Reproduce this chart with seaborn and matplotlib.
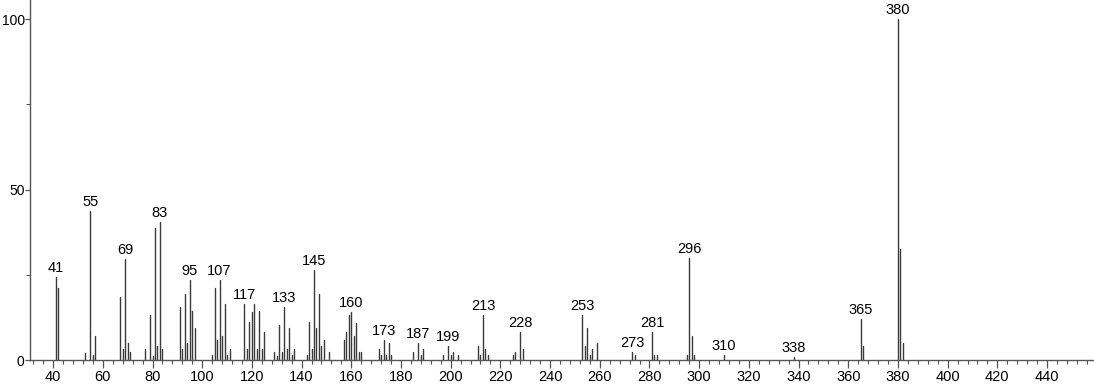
import numpy as np
import pandas as pd
import matplotlib
matplotlib.use("Agg")
import matplotlib.pyplot as plt
import seaborn as sns
from matplotlib.ticker import MultipleLocator

# m/z values and relative intensities
mz = [41, 42, 53, 55, 56, 57, 67, 68, 69, 70, 71, 77, 79, 80, 81, 82, 83, 84,
      91, 92, 93, 94, 95, 96, 97, 104, 105, 106, 107, 108, 109, 110, 111,
      117, 118, 119, 120, 121, 122, 123, 124, 125, 129, 130, 131, 132, 133,
      134, 135, 136, 137, 142, 143, 144, 145, 146, 147, 148, 149, 151,
      157, 158, 159, 160, 161, 162, 163, 164, 171, 172, 173, 174, 175, 176,
      185, 187, 188, 189, 197, 199, 200, 201, 203, 211, 212, 213, 214, 215,
      225, 226, 228, 229, 253, 254, 255, 256, 257, 259, 273, 274, 281, 282,
      283, 295, 296, 297, 298, 310, 338, 365, 366, 380, 381, 382]
intensity = [24.3, 21.2, 2.2, 43.7, 1.4, 7.1, 18.4, 3.1, 29.6, 4.9, 2.3, 3.1,
             13.2, 1.3, 38.6, 4.1, 40.4, 3.1,
             15.5, 3.2, 19.5, 5.0, 23.5, 14.4, 9.4, 1.4, 21.1, 6.0, 23.5, 7.0,
             16.5, 1.4, 3.2,
             16.4, 3.2, 11.2, 14.2, 16.5, 3.2, 14.3, 3.2, 8.3, 2.3, 1.3, 10.2,
             2.3, 15.5, 3.2, 9.3, 1.4, 3.2, 1.4, 11.2, 3.2, 26.4, 9.3, 19.4,
             4.1, 6.0, 2.3,
             6.0, 8.3, 13.2, 14.2, 7.0, 11.0, 2.4, 2.4, 3.1, 1.4, 5.9, 1.4,
             4.9, 1.4, 2.4, 5.0, 1.4, 3.1, 1.4, 4.1, 1.4, 2.4, 1.4, 4.1, 1.4,
             13.1, 3.2, 1.4, 1.4, 2.3, 8.2, 3.2, 13.1, 4.1, 9.4, 1.4, 3.2, 4.9,
             2.3, 1.4, 8.2, 1.4, 1.4, 1.4, 29.9, 7.0, 1.4, 1.4, 0.8, 11.9,
             4.2, 100.0, 32.5, 4.9]
labeled_mz = [41, 55, 69, 83, 95, 107, 117, 133, 145, 160, 173, 187, 199,
              213, 228, 253, 273, 281, 296, 310, 338, 365, 380]
x_ticks = list(range(40, 441, 20))
y_ticks = [0, 50, 100]

# long-form table: each peak is a vertical segment from 0 to its intensity
rows = []
for i, (m, v) in enumerate(zip(mz, intensity)):
    rows.append({"peak": i, "mz": m, "intensity": 0.0})
    rows.append({"peak": i, "mz": m, "intensity": v})
df = pd.DataFrame(rows)

sns.set_style("white")
plt.rcParams["font.family"] = ["Liberation Sans", "DejaVu Sans"]

fig = plt.figure(figsize=(10.94, 3.84), dpi=100)
ax = fig.add_axes([30 / 1094, 24 / 384, 1 - 30 / 1094, 360 / 384])

sns.lineplot(data=df, x="mz", y="intensity", units="peak", estimator=None,
             color="#3a3a3a", linewidth=1.0, sort=False, ax=ax, legend=False)

peak_map = dict(zip(mz, intensity))
for m in labeled_mz:
    ax.annotate(str(m), xy=(m, peak_map[m]), xytext=(0, 1.5),
                textcoords="offset points", ha="center", va="bottom",
                fontsize=10.5, color="black")

ax.set_xlim(30.7, 458.9)
ax.set_ylim(0, 105.6)
ax.set_xticks(x_ticks)
ax.set_yticks(y_ticks)
ax.xaxis.set_minor_locator(MultipleLocator(4))
ax.yaxis.set_minor_locator(MultipleLocator(25))
ax.tick_params(axis="both", which="major", direction="out", length=6,
               width=0.9, color="#555555", labelsize=10.5, labelcolor="black")
ax.tick_params(axis="x", which="major", pad=1)
ax.tick_params(axis="y", which="major", pad=0.3, length=3.5, labelsize=10)
ax.tick_params(axis="both", which="minor", direction="out", length=3,
               width=0.8, color="#555555")
ax.tick_params(axis="x", which="both", bottom=True)
ax.tick_params(axis="y", which="both", left=True)
ax.set_xlabel("")
ax.set_ylabel("")
for side in ["top", "right"]:
    ax.spines[side].set_visible(False)
for side in ["left", "bottom"]:
    ax.spines[side].set_color("#555555")
    ax.spines[side].set_linewidth(1.0)

fig.savefig("out.png", dpi=100)
